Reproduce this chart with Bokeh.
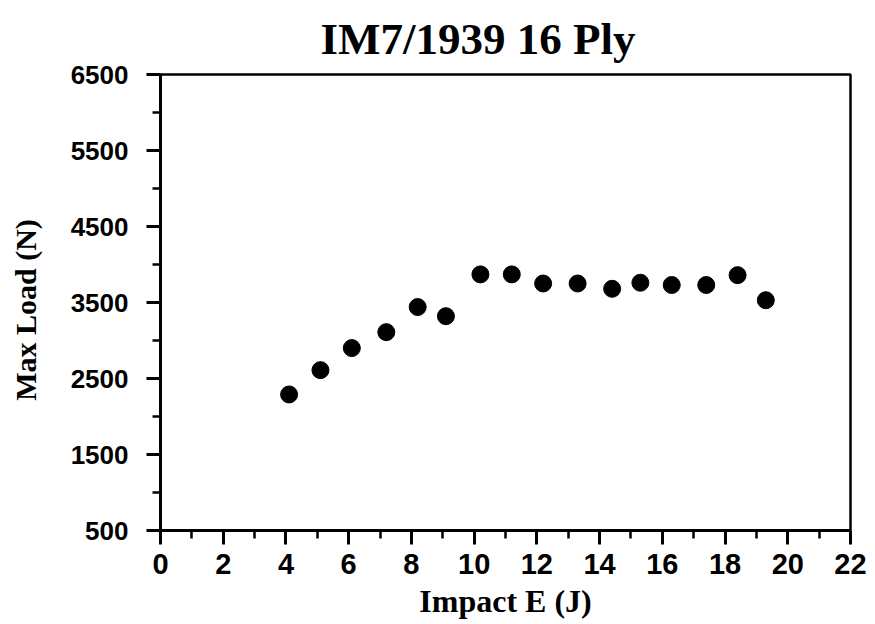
from bokeh.plotting import figure
from bokeh.models import Range1d, FixedTicker
from bokeh.embed import file_html
from bokeh.resources import INLINE

# Data
impact_energy = [4.1, 5.1, 6.1, 7.2, 8.2, 9.1, 10.2, 11.2, 12.2, 13.3, 14.4, 15.3, 16.3, 17.4, 18.4, 19.3]
max_load = [2290, 2610, 2900, 3110, 3440, 3320, 3870, 3870, 3750, 3750, 3680, 3760, 3730, 3730, 3860, 3530]
x_ticks = [0, 2, 4, 6, 8, 10, 12, 14, 16, 18, 20, 22]
x_minor = [1, 3, 5, 7, 9, 11, 13, 15, 17, 19, 21]
y_ticks = [500, 1500, 2500, 3500, 4500, 5500, 6500]
y_minor = [1000, 2000, 3000, 4000, 5000, 6000]

p = figure(frame_width=690, frame_height=456,
           x_range=Range1d(0, 22), y_range=Range1d(500, 6500),
           output_backend="svg", toolbar_location=None,
           min_border_left=160, min_border_right=20,
           min_border_top=73, min_border_bottom=90,
           title="IM7/1939 16 Ply")

p.title.text_font = "Liberation Serif"
p.title.text_font_style = "bold"
p.title.text_font_size = "45px"
p.title.align = "left"
p.title.offset = 160
p.title.standoff = 22
p.title.text_color = "black"

p.grid.visible = False
p.outline_line_color = "black"
p.outline_line_width = 2.5
p.outline_line_alpha = 1.0

p.scatter(impact_energy, max_load, size=17, color="black")

p.xaxis.ticker = FixedTicker(ticks=x_ticks, minor_ticks=x_minor)
p.yaxis.ticker = FixedTicker(ticks=y_ticks, minor_ticks=y_minor)

for ax in (p.xaxis[0], p.yaxis[0]):
    ax.axis_line_width = 3
    ax.axis_line_color = "black"
    ax.major_tick_in = 0
    ax.major_tick_out = 14
    ax.minor_tick_in = 0
    ax.minor_tick_out = 8
    ax.major_tick_line_width = 3
    ax.minor_tick_line_width = 2.5
    ax.major_tick_line_color = "black"
    ax.minor_tick_line_color = "black"
    ax.major_label_text_font = "Liberation Sans"
    ax.major_label_text_font_style = "bold"
    ax.major_label_text_color = "black"
    ax.axis_label_text_font = "Liberation Serif"
    ax.axis_label_text_font_style = "bold"
    ax.axis_label_text_color = "black"

p.xaxis.axis_label = "Impact E (J)"
p.yaxis.axis_label = "Max  Load  (N)"
p.xaxis.major_label_text_font_size = "29px"
p.yaxis.major_label_text_font_size = "26px"
p.xaxis.axis_label_text_font_size = "32px"
p.yaxis.axis_label_text_font_size = "30px"
p.xaxis.major_label_standoff = 9
p.yaxis.major_label_standoff = 18
p.xaxis.axis_label_standoff = 6
p.yaxis.axis_label_standoff = 26

open("out.html", "w").write(file_html(p, INLINE))
